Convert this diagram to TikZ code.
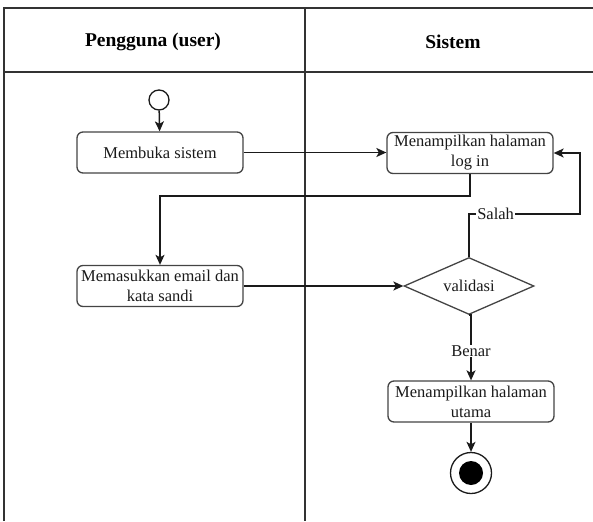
\documentclass[tikz,border=0pt]{standalone}
\usepackage{fontspec}
\setmainfont{Liberation Serif}
\usetikzlibrary{arrows.meta,shapes.geometric}
\definecolor{frameline}{HTML}{333333}
\definecolor{boxline}{HTML}{444444}
\definecolor{inkline}{HTML}{1A1A1A}
\tikzset{
  lane/.style={draw=frameline,line width=1.3pt},
  action/.style={draw=boxline,line width=1.3pt,rounded corners=6pt,fill=white,
    minimum width=166pt,minimum height=41pt,inner sep=1pt,align=center,
    font=\fontsize{16.5}{20}\selectfont,text=inkline},
  decision/.style={draw=boxline,line width=1.3pt,diamond,fill=white,inner sep=0pt,
    minimum width=130pt,minimum height=57pt,aspect=2.28,
    font=\fontsize{16.5}{20}\selectfont,text=inkline},
  flow/.style={draw=inkline,line width=1.5pt,-{Stealth[length=10pt,width=9pt,inset=2.5pt]}},
  guard/.style={fill=white,inner sep=1pt,font=\fontsize{16.5}{20}\selectfont,text=inkline},
  header/.style={font=\fontsize{19.5}{22}\selectfont\bfseries,text=black},
  initial/.style={circle,draw=inkline,line width=1.3pt,fill=white,minimum size=20pt,inner sep=0pt},
  final/.style={circle,draw=inkline,line width=1.3pt,fill=white,minimum size=41pt,inner sep=0pt},
  finaldot/.style={circle,fill=black,minimum size=24pt,inner sep=0pt},
}
\begin{document}
\begin{tikzpicture}[x=1pt,y=-1pt]
\useasboundingbox (0,0) rectangle (593,521);

% swimlane frame
\draw[lane] (4,521) -- (4,8) -- (593,8);
\draw[lane] (4,72) -- (593,72);
\draw[lane] (305,8) -- (305,521);
\node[header] (laneuser) at (153,42) {Pengguna (user)};
\node[header] (lanesys) at (453,42) {Sistem};

% activity nodes
\node[initial] (start) at (159,100) {};
\node[action] (buka) at (160,152.5) {Membuka sistem};
\node[action] (login) at (470,153) {Menampilkan halaman\\log in};
\node[action] (masuk) at (160,286) {Memasukkan email dan\\kata sandi};
\node[decision] (valid) at (469,286) {validasi};
\node[action] (utama) at (471,401.5) {Menampilkan halaman\\utama};
\node[final] (end) at (471,473) {};
\node[finaldot] (enddot) at (end.center) {};

% control flow
\draw[flow] (start) -- (buka);
\draw[flow] (buka.east) -- (buka.east -| login.west);
\draw[flow] (login.south) -- ++(0,22) -| (masuk.north);
\draw[flow] (masuk.east) -- (masuk.east -| valid.west);
\draw[flow] (valid.north) |- (580,214) node[guard,pos=0.62] {Salah} |- (login.east);
\draw[flow] (valid.south) -- (valid.south -| utama.north) -- (utama.north)
  node[guard,pos=0.55] {Benar};
\draw[flow] (utama.south) -- (end.north);
\end{tikzpicture}
\end{document}
